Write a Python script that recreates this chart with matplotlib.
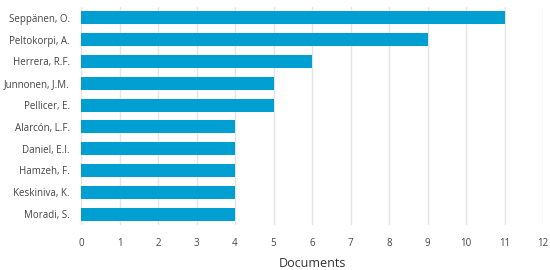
import matplotlib
matplotlib.use("Agg")
import matplotlib.pyplot as plt

authors = ["Seppänen, O.", "Peltokorpi, A.", "Herrera, R.F.", "Junnonen, J.M.",
           "Pellicer, E.", "Alarcón, L.F.", "Daniel, E.I.", "Hamzeh, F.",
           "Keskiniva, K.", "Moradi, S."]
documents = [11, 9, 6, 5, 5, 4, 4, 4, 4, 4]

plt.rcParams['font.family'] = ['Open Sans', 'DejaVu Sans']

fig = plt.figure(figsize=(5.5, 2.7), dpi=100)
ax = fig.add_axes([81/550, 45/270, 462/550, 218/270])

ypos = list(range(len(authors)))
ax.barh(ypos, documents, height=0.6, color="#009fd1", zorder=3)
ax.set_yticks(ypos)
ax.set_yticklabels(authors)
ax.set_ylim(len(authors) - 0.5, -0.5)
ax.set_xlim(0, 12)
ax.set_xticks(range(13))

ax.grid(axis="x", color="#e4e4e4", linewidth=1, zorder=0)
for s in ax.spines.values():
    s.set_visible(False)
ax.tick_params(axis="both", length=0, labelsize=7, colors="#444444")
ax.tick_params(axis="y", pad=8)
ax.tick_params(axis="x", pad=9)
ax.set_xlabel("Documents", fontsize=9, color="#333333", labelpad=6)

fig.savefig("out.png", dpi=100)
